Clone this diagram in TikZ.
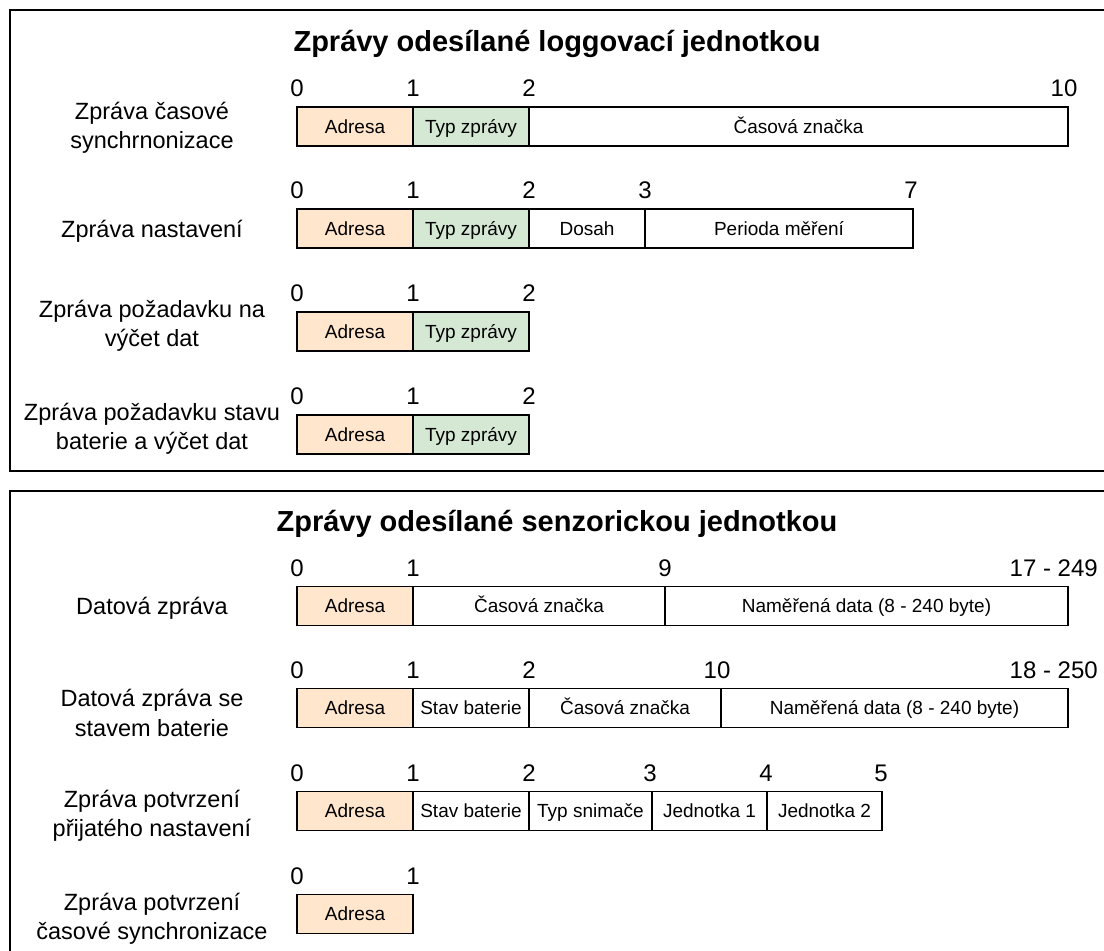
\documentclass[tikz,border=0pt]{standalone}
\usepackage{fontspec}
\setmainfont{Liberation Sans}
\definecolor{orfill}{HTML}{FFE6CC}
\definecolor{grfill}{HTML}{D5E8D4}
\tikzset{
 field/.style={draw=black, line width=1.6pt, minimum height=39pt, inner sep=0pt, text height=17.5pt, text depth=4pt, font=\fontsize{19}{23}\selectfont},
 adr/.style={field, fill=orfill},
 typ/.style={field, fill=grfill},
 num/.style={font=\fontsize{24}{28}\selectfont, inner sep=0pt, text height=17.2pt, text depth=0pt},
 rowlab/.style={font=\fontsize{23.5}{29.5}\selectfont, align=center, inner sep=0pt},
 ttl/.style={font=\bfseries\fontsize{29}{34}\selectfont, inner sep=0pt},
 frame/.style={draw=black, line width=2.6pt}
}
\begin{document}
\begin{tikzpicture}[x=1pt,y=-1pt]
\useasboundingbox (0,0) rectangle (1104,951);
\clip (0,0) rectangle (1104,951);
\fill[white] (0,0) rectangle (1104,951);
% frames
\coordinate (f1a) at (1115,10);
\coordinate (f1b) at (10,10);
\coordinate (f1c) at (10,471);
\coordinate (f1d) at (1115,471);
\draw[frame] (f1a) -- (f1b) -- (f1c) -- (f1d);
\coordinate (f2a) at (1115,491);
\coordinate (f2b) at (10,491);
\coordinate (f2c) at (10,965);
\draw[frame] (f2a) -- (f2b) -- (f2c);

% ===== top section =====
\node[ttl] (t1) at (557,44) {Zprávy odesílané loggovací jednotkou};

% row 1
\node[rowlab] (l1) at (152,128) {Zpráva časové\\synchrnonizace};
\node[adr, minimum width=116pt] (a1) at (355,126.5) {Adresa};
\node[typ, minimum width=116pt] (b1) at (471,126.5) {Typ zprávy};
\node[field, minimum width=539pt] (c1) at (798.5,126.5) {Časová značka};
\node[num] (n1a) at (297,88) {0};
\node[num] (n1b) at (413,88) {1};
\node[num] (n1c) at (529,88) {2};
\node[num] (n1d) at (1064,88) {10};

% row 2
\node[rowlab] (l2) at (152,231) {Zpráva nastavení};
\node[adr, minimum width=116pt] (a2) at (355,228.5) {Adresa};
\node[typ, minimum width=116pt] (b2) at (471,228.5) {Typ zprávy};
\node[field, minimum width=116pt] (c2) at (587,228.5) {Dosah};
\node[field, minimum width=268pt] (d2) at (779,228.5) {Perioda měření};
\node[num] (n2a) at (297,190) {0};
\node[num] (n2b) at (413,190) {1};
\node[num] (n2c) at (529,190) {2};
\node[num] (n2d) at (645,190) {3};
\node[num] (n2e) at (911,190) {7};

% row 3
\node[rowlab] (l3) at (152,326) {Zpráva požadavku na\\výčet dat};
\node[adr, minimum width=116pt] (a3) at (355,331.5) {Adresa};
\node[typ, minimum width=116pt] (b3) at (471,331.5) {Typ zprávy};
\node[num] (n3a) at (297,293) {0};
\node[num] (n3b) at (413,293) {1};
\node[num] (n3c) at (529,293) {2};

% row 4
\node[rowlab] (l4) at (152,429) {Zpráva požadavku stavu\\baterie a výčet dat};
\node[adr, minimum width=116pt] (a4) at (355,434.5) {Adresa};
\node[typ, minimum width=116pt] (b4) at (471,434.5) {Typ zprávy};
\node[num] (n4a) at (297,396) {0};
\node[num] (n4b) at (413,396) {1};
\node[num] (n4c) at (529,396) {2};

% ===== bottom section =====
\node[ttl] (t2) at (557,524) {Zprávy odesílané senzorickou jednotkou};

% row 5
\node[rowlab] (l5) at (152,608) {Datová zpráva};
\node[adr, minimum width=116pt] (a5) at (355,606) {Adresa};
\node[field, minimum width=252pt] (b5) at (539,606) {Časová značka};
\node[field, minimum width=403pt] (c5) at (866.5,606) {Naměřená data (8 - 240 byte)};
\node[num] (n5a) at (297,568) {0};
\node[num] (n5b) at (413,568) {1};
\node[num] (n5c) at (665,568) {9};
\node[num, anchor=east] (n5d) at (1098,568) {17 - 249};

% row 6
\node[rowlab] (l6) at (152,713) {Datová zpráva se\\stavem baterie};
\node[adr, minimum width=116pt] (a6) at (355,708) {Adresa};
\node[field, minimum width=116pt] (b6) at (471,708) {Stav baterie};
\node[field, minimum width=192pt] (c6) at (625,708) {Časová značka};
\node[field, minimum width=347pt] (d6) at (894.5,708) {Naměřená data (8 - 240 byte)};
\node[num] (n6a) at (297,670) {0};
\node[num] (n6b) at (413,670) {1};
\node[num] (n6c) at (529,670) {2};
\node[num] (n6d) at (717,670) {10};
\node[num, anchor=east] (n6e) at (1098,670) {18 - 250};

% row 7
\node[rowlab] (l7) at (152,816) {Zpráva potvrzení\\přijatého nastavení};
\node[adr, minimum width=116pt] (a7) at (355,811) {Adresa};
\node[field, minimum width=116pt] (b7) at (471,811) {Stav baterie};
\node[field, minimum width=123pt] (c7) at (590.5,811) {Typ snimače};
\node[field, minimum width=115pt] (d7) at (709.5,811) {Jednotka 1};
\node[field, minimum width=115pt] (e7) at (824.5,811) {Jednotka 2};
\node[num] (n7a) at (297,773) {0};
\node[num] (n7b) at (413,773) {1};
\node[num] (n7c) at (529,773) {2};
\node[num] (n7d) at (650,773) {3};
\node[num] (n7e) at (766,773) {4};
\node[num] (n7f) at (881,773) {5};

% row 8
\node[rowlab] (l8) at (152,919) {Zpráva potvrzení\\časové synchronizace};
\node[adr, minimum width=116pt] (a8) at (355,914) {Adresa};
\node[num] (n8a) at (297,876) {0};
\node[num] (n8b) at (413,876) {1};
\end{tikzpicture}
\end{document}
